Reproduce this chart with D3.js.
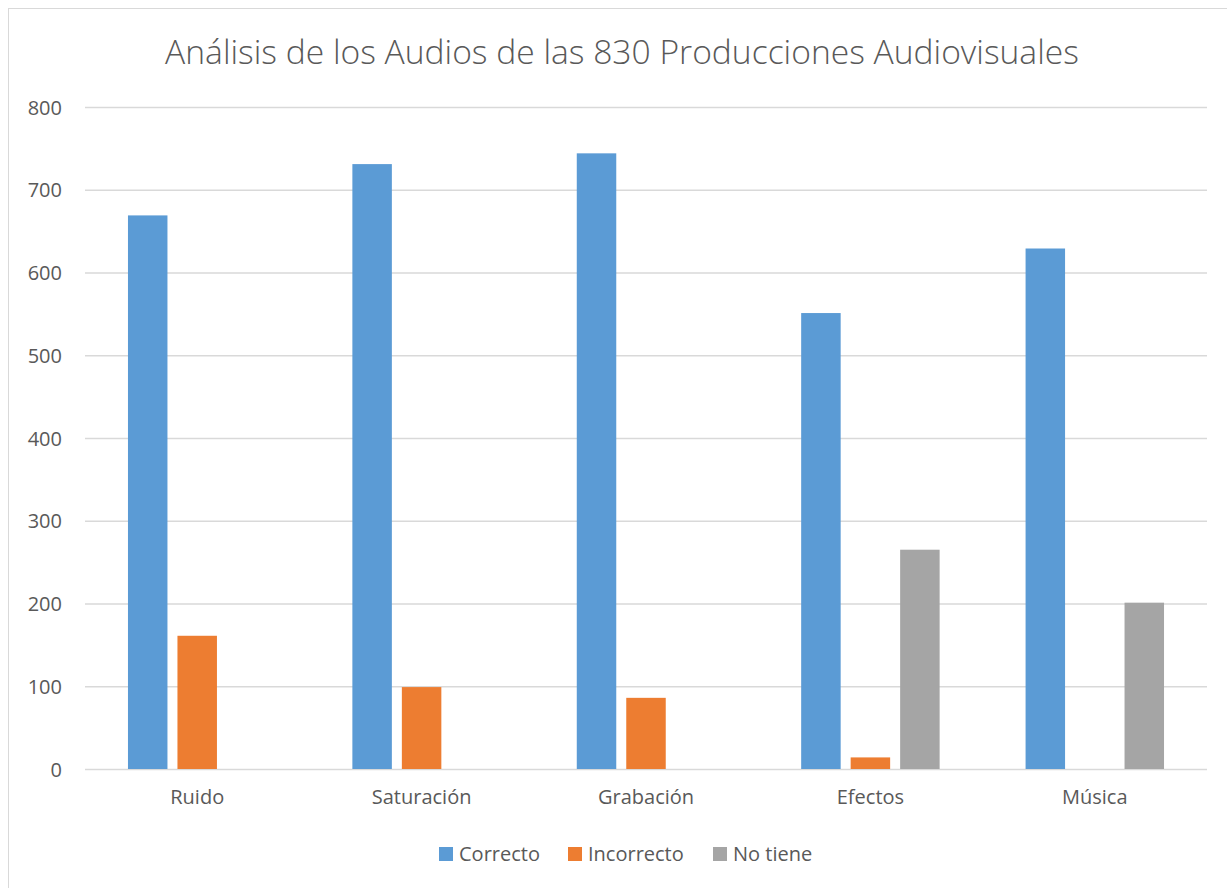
<!DOCTYPE html>
<html><head><meta charset="utf-8">
<script src="https://cdn.jsdelivr.net/npm/d3@7"></script>
<style>body{margin:0;background:#fff}svg{display:block}text{font-family:"Open Sans",sans-serif}</style>
</head><body><svg id="c" width="1227" height="888"></svg>
<script>
const categories = ["Ruido", "Saturación", "Grabación", "Efectos", "Música"];
const seriesNames = ["Correcto", "Incorrecto", "No tiene"];
const correcto = [669, 731, 744, 551, 629];
const incorrecto = [161, 99, 86, 14, 0];
const noTiene = [0, 0, 0, 265, 201];
const yTicks = [0, 100, 200, 300, 400, 500, 600, 700, 800];
const colors = ["#5B9BD5", "#ED7D31", "#A5A5A5"];
const titleText = "Análisis de los Audios de las 830 Producciones Audiovisuales";

const values = [correcto, incorrecto, noTiene];
const svg = d3.select("#c");
svg.append("rect").attr("x", 8.5).attr("y", 8.5).attr("width", 1240).attr("height", 900)
  .attr("fill", "#fff").attr("stroke", "#d9d9d9").attr("stroke-width", 1);

const plot = {left: 85, right: 1207, top: 107, bottom: 769};
const y = d3.scaleLinear().domain([0, 800]).range([plot.bottom, plot.top]);
const x0 = d3.scaleBand().domain(categories).range([plot.left, plot.right]).paddingInner(0.383).paddingOuter(0.1915);
const x1 = d3.scaleBand().domain(seriesNames).range([0, x0.bandwidth()]).paddingInner(0.202).paddingOuter(0);

// title
const t = svg.append("text").attr("x", 622).attr("y", 64).attr("text-anchor", "middle")
  .attr("fill", "#595959").style("font-weight", 300).style("font-size", "30px").text(titleText);
const tw = t.node().getComputedTextLength();
t.style("font-size", (30 * 914 / tw) + "px");

// gridlines
const yAxis = d3.axisLeft(y).tickValues(yTicks).tickSize(-(plot.right - plot.left)).tickPadding(23);
const ga = svg.append("g").attr("transform", `translate(${plot.left},0)`).call(yAxis);
ga.select(".domain").remove();
ga.selectAll(".tick line").attr("stroke", "#d9d9d9").attr("stroke-width", 1.5);
ga.selectAll(".tick text").attr("fill", "#595959").style("font-size", "20px").style("font-family", '"Open Sans",sans-serif').attr("dy", "0.35em");

// bars
const groups = svg.append("g").selectAll("g").data(categories).join("g")
  .attr("transform", d => `translate(${x0(d)},0)`);
groups.selectAll("rect").data((c, i) => seriesNames.map((s, j) => ({s, v: values[j][i], j})))
  .join("rect")
  .attr("x", d => x1(d.s)).attr("width", x1.bandwidth())
  .attr("y", d => y(d.v)).attr("height", d => y(0) - y(d.v))
  .attr("fill", d => colors[d.j]);

// x axis labels
const xAxis = d3.axisBottom(x0).tickSize(0).tickPadding(21);
const gx = svg.append("g").attr("transform", `translate(0,${plot.bottom})`).call(xAxis);
gx.select(".domain").remove();
gx.selectAll(".tick text").attr("fill", "#595959").style("font-size", "20px").style("font-family", '"Open Sans",sans-serif');

// legend
const legendX = [439, 568, 713];
const lg = svg.append("g").selectAll("g").data(seriesNames).join("g")
  .attr("transform", (d, i) => `translate(${legendX[i]},847)`);
lg.append("rect").attr("width", 14).attr("height", 14).attr("fill", (d, i) => colors[i]);
lg.append("text").attr("x", 20).attr("y", 14).attr("fill", "#595959").style("font-size", "20px").text(d => d);
</script></body></html>
